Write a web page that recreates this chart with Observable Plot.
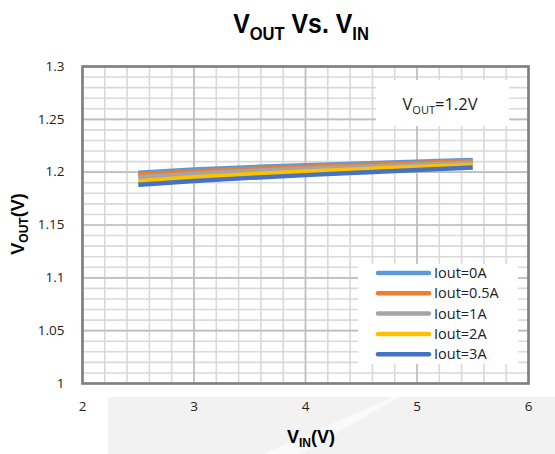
<!DOCTYPE html>
<html>
<head>
<meta charset="utf-8">
<script src="https://cdn.jsdelivr.net/npm/d3@7"></script>
<script src="https://cdn.jsdelivr.net/npm/@observablehq/plot@0.6"></script>
<style>
  html, body { margin: 0; padding: 0; background: #fff; }
  #chart { position: relative; width: 555px; height: 454px; }
</style>
</head>
<body>
<div id="chart"></div>
<script>
// ---- data ----
const vin = [2.5, 3, 3.5, 4, 4.5, 5, 5.5];
const seriesNames = ["Iout=0A", "Iout=0.5A", "Iout=1A", "Iout=2A", "Iout=3A"];
const iout0A  = [1.1995, 1.2025, 1.2047, 1.2066, 1.2082, 1.2099, 1.2116];
const iout05A = [1.1977, 1.2007, 1.2031, 1.2051, 1.2068, 1.2086, 1.2105];
const iout1A  = [1.1952, 1.1986, 1.2012, 1.2033, 1.2051, 1.2070, 1.2088];
const iout2A  = [1.1914, 1.1951, 1.1981, 1.2006, 1.2028, 1.2049, 1.2069];
const iout3A  = [1.1880, 1.1916, 1.1946, 1.1972, 1.1997, 1.2021, 1.2044];
const seriesValues = [iout0A, iout05A, iout1A, iout2A, iout3A];
const seriesColors = ["#5B9BD5", "#ED7D31", "#A5A5A5", "#FFC000", "#4472C4"];
const xTicks = [2, 3, 4, 5, 6];
const yTicks = [1, 1.05, 1.1, 1.15, 1.2, 1.25, 1.3];
const xMinor = d3.range(2, 6.0001, 0.2);
const yMinor = d3.range(1, 1.3001, 0.01);

const rows = [];
seriesNames.forEach((s, i) => vin.forEach((v, j) => rows.push({series: s, vin: v, vout: seriesValues[i][j]})));

const W = 555, H = 454, mT = 66, mB = 71, mL = 82, mR = 27;

const chart = Plot.plot({
  width: W, height: H,
  marginTop: mT, marginBottom: mB, marginLeft: mL, marginRight: mR,
  style: {fontFamily: "'Open Sans', 'Liberation Sans', Arial, sans-serif", fontSize: "13.5px", color: "#222", background: "transparent"},
  x: {domain: [2, 6], label: null},
  y: {domain: [1, 1.3], label: null},
  color: {domain: seriesNames, range: seriesColors},
  marks: [
    Plot.ruleX(xMinor, {stroke: "#d9d9d9", strokeWidth: 1.6}),
    Plot.ruleY(yMinor, {stroke: "#d9d9d9", strokeWidth: 1.6}),
    Plot.ruleX(xTicks, {stroke: "#bfbfbf", strokeWidth: 1.6}),
    Plot.ruleY(yTicks, {stroke: "#bfbfbf", strokeWidth: 1.6}),
    Plot.line(rows, {x: "vin", y: "vout", z: "series", stroke: "series", strokeWidth: 4.5, curve: "natural", strokeLinecap: "butt"}),
    Plot.frame({stroke: "#7f7f7f", strokeWidth: 2.6}),
    Plot.axisX({ticks: xTicks, tickSize: 0, tickPadding: 18, tickFormat: d => String(d), label: null}),
    Plot.axisY({ticks: yTicks, tickSize: 0, tickPadding: 18, tickFormat: d => String(+d.toFixed(2)), label: null})
  ]
});

const svg = d3.select(chart);

// light gray band below plot (image backdrop)
const bg = svg.insert("g", ":first-child");
bg.append("rect").attr("x", 108).attr("y", 397).attr("width", W - 108).attr("height", H - 397).attr("fill", "#f2f2f2");
bg.append("polygon").attr("points", "263,454 393,397 400,397 300,454").attr("fill", "#fafafa");

const narrow = "'Liberation Sans Narrow', 'Arial Narrow', 'Liberation Sans', sans-serif";
const body = "'Open Sans', 'Liberation Sans', Arial, sans-serif";

// title
const title = svg.append("text").attr("x", 301).attr("y", 33).attr("text-anchor", "middle")
  .attr("font-family", narrow).attr("font-weight", "bold").attr("font-size", 27).attr("fill", "#000")
  .attr("transform", "translate(301,0) scale(0.92,1) translate(-301,0)");
title.append("tspan").text("V");
title.append("tspan").attr("font-size", 18).attr("dy", 7).text("OUT");
title.append("tspan").attr("dy", -7).text(" Vs. V");
title.append("tspan").attr("font-size", 18).attr("dy", 7).text("IN");

// x axis label
const xl = svg.append("text").attr("x", 311).attr("y", 443).attr("text-anchor", "middle")
  .attr("font-family", narrow).attr("font-weight", "bold").attr("font-size", 18).attr("fill", "#000");
xl.append("tspan").text("V");
xl.append("tspan").attr("font-size", 12).attr("dy", 4).text("IN");
xl.append("tspan").attr("dy", -4).text("(V)");

// y axis label
const yl = svg.append("text").attr("transform", "translate(24,224) rotate(-90)").attr("text-anchor", "middle")
  .attr("font-family", narrow).attr("font-weight", "bold").attr("font-size", 18).attr("fill", "#000");
yl.append("tspan").text("V");
yl.append("tspan").attr("font-size", 12).attr("dy", 4).text("OUT");
yl.append("tspan").attr("dy", -4).text("(V)");

// annotation box
svg.append("rect").attr("x", 376).attr("y", 80).attr("width", 133).attr("height", 46).attr("fill", "#fff");
const ann = svg.append("text").attr("x", 440).attr("y", 110).attr("text-anchor", "middle")
  .attr("font-family", body).attr("font-size", 16.5).attr("fill", "#222");
ann.append("tspan").text("V");
ann.append("tspan").attr("font-size", 11).attr("dy", 4).text("OUT");
ann.append("tspan").attr("dy", -4).text("=1.2V");

// legend
const lg = svg.append("g");
lg.append("rect").attr("x", 358).attr("y", 264).attr("width", 160).attr("height", 100).attr("fill", "#fff");
seriesNames.forEach((s, i) => {
  const y = 273 + i * 20.3;
  lg.append("line").attr("x1", 378).attr("x2", 429).attr("y1", y).attr("y2", y)
    .attr("stroke", seriesColors[i]).attr("stroke-width", 4.5).attr("stroke-linecap", "round");
  lg.append("text").attr("x", 434).attr("y", y).attr("dy", "0.35em").attr("text-anchor", "start")
    .attr("font-family", body).attr("font-size", 14.5).attr("fill", "#222").text(s);
});

document.getElementById("chart").appendChild(chart);
</script>
</body>
</html>
